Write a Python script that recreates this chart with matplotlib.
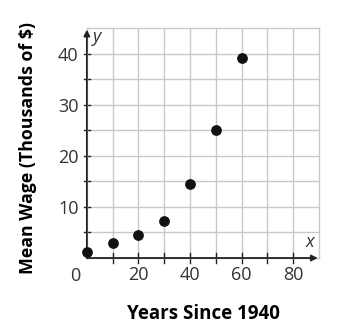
import numpy as np
import matplotlib
matplotlib.use('Agg')
import matplotlib.pyplot as plt

years = [0, 10, 20, 30, 40, 50, 60]
wages = [1.2, 2.9, 4.5, 7.3, 14.5, 25.1, 39.2]
x_ticks = [20, 40, 60, 80]
y_ticks = [10, 20, 30, 40]

plt.rcParams['font.family'] = ['Open Sans', 'DejaVu Sans']

fig = plt.figure(figsize=(3.42, 3.34), dpi=100)
ax = fig.add_axes([0.254, 0.2275, 0.679, 0.6885])
ax.set_xlim(0, 90)
ax.set_ylim(0, 45)

# light grid
for xv in range(10, 90, 10):
    ax.axvline(xv, color='#c8c8c8', lw=1, zorder=0)
for yv in range(5, 45, 5):
    ax.axhline(yv, color='#c8c8c8', lw=1, zorder=0)
for s in ax.spines.values():
    s.set_color('#c8c8c8')
    s.set_linewidth(1)
ax.tick_params(which='both', length=0)
ax.set_xticks(x_ticks)
ax.set_yticks(y_ticks)
ax.tick_params(labelsize=13, colors='#333333', pad=6)

# dark axes with arrows
ax.annotate('', xy=(89.5, 0), xytext=(0, 0),
            arrowprops=dict(arrowstyle='-|>', color='#222222', lw=1.3,
                            mutation_scale=9, shrinkA=0, shrinkB=0),
            annotation_clip=False)
ax.annotate('', xy=(0, 44.7), xytext=(0, 0),
            arrowprops=dict(arrowstyle='-|>', color='#222222', lw=1.3,
                            mutation_scale=9, shrinkA=0, shrinkB=0),
            annotation_clip=False)
for xv in range(10, 90, 10):
    ax.plot([xv, xv], [-0.9, 0.9], color='#222222', lw=1, clip_on=False)
for yv in range(5, 45, 5):
    ax.plot([-1.1, 1.1], [yv, yv], color='#222222', lw=1, clip_on=False)

ax.text(88, 1.3, 'x', style='italic', fontsize=13, ha='right', va='bottom', color='#333333')
ax.text(2.2, 45, 'y', style='italic', fontsize=13, ha='left', va='top', color='#333333')
ax.text(-2.5, -1.8, '0', fontsize=13, ha='right', va='top', color='#333333')

ax.scatter(years, wages, s=45, color='#111111', zorder=5, clip_on=False)

ax.set_xlabel('Years Since 1940', fontsize=13.5, fontweight='bold', labelpad=14)
ax.set_ylabel('Mean Wage (Thousands of $)', fontsize=12.8, fontweight='bold')
ax.yaxis.set_label_coords(-0.254, 0.478)
ax.yaxis.label.set_va('center')

fig.savefig('out.png', dpi=100)
